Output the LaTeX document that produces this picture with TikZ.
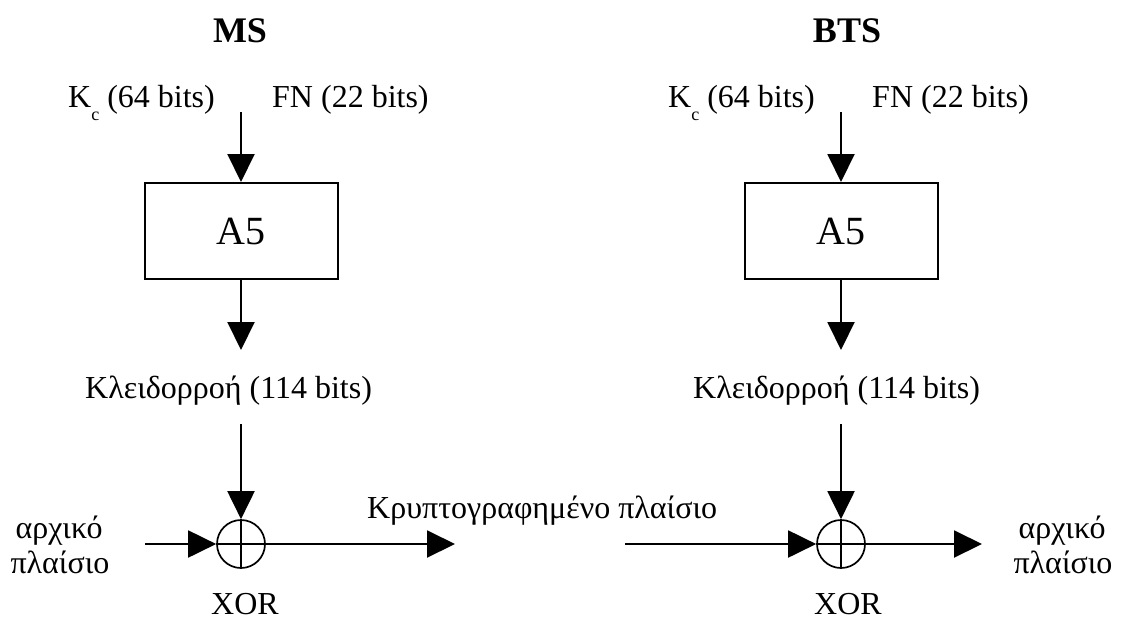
\documentclass[tikz,border=0pt]{standalone}
\usepackage{fontspec}
\setmainfont{Liberation Serif}
\usetikzlibrary{arrows.meta}

\tikzset{
  lbl/.style={inner sep=0pt, font=\fontsize{32}{34}\selectfont},
  head/.style={inner sep=0pt, font=\fontsize{36}{38}\selectfont\bfseries},
  cipherbox/.style={draw, line width=2pt, minimum width=193pt, minimum height=96pt,
    inner sep=0pt, font=\fontsize{40}{42}\selectfont},
  xorgate/.style={draw, circle, line width=1.7pt, minimum size=48pt, inner sep=0pt},
  flow/.style={line width=2pt, -{Triangle[length=28pt,width=27pt]}},
  plain/.style={line width=2pt}
}
\newcommand{\kcsub}{K\raisebox{-13pt}{\fontsize{18}{18}\selectfont c}}

\begin{document}
\begin{tikzpicture}[x=1pt, y=-1pt]
\useasboundingbox (0,0) rectangle (1129,619);

% ---------- MS side ----------
\node[head, anchor=base] (ms) at (240,42) {MS};
\node[lbl, anchor=base west] (kcL) at (68,107) {\kcsub\ (64 bits)};
\node[lbl, anchor=base west] (fnL) at (272,107) {FN (22 bits)};
\node[cipherbox] (a5L) at (241,231) {A5};
\node[lbl, anchor=base west] (ksL) at (85,398) {Κλειδορροή (114 bits)};
\node[xorgate] (xL) at (241,544) {};
\node[lbl, anchor=base] (xorL) at (245,614) {XOR};
\node[lbl, anchor=base] (origL1) at (59,538) {αρχικό};
\node[lbl, anchor=base] (origL2) at (60,573) {πλαίσιο};
\node[lbl, anchor=base west] (cipher) at (367,518) {Κρυπτογραφημένο πλαίσιο};

\coordinate (inL) at (241,112);
\coordinate (ksTopL) at (241,350);
\coordinate (ksBotL) at (241,424);
\coordinate (srcL) at (145,544);
\coordinate (outL) at (455,544);

\draw[flow] (inL) -- (a5L.north);
\draw[flow] (a5L.south) -- (ksTopL);
\draw[flow] (ksBotL) -- (xL.north);
\draw[flow] (srcL) -- (xL.west);
\draw[flow] (xL.east) -- (outL);
\draw[line width=1.7pt] (xL.north) -- (xL.south) (xL.west) -- (xL.east);

% ---------- BTS side ----------
\node[head, anchor=base] (bts) at (847,42) {BTS};
\node[lbl, anchor=base west] (kcR) at (668,107) {\kcsub\ (64 bits)};
\node[lbl, anchor=base west] (fnR) at (872,107) {FN (22 bits)};
\node[cipherbox] (a5R) at (841,231) {A5};
\node[lbl, anchor=base west] (ksR) at (693,398) {Κλειδορροή (114 bits)};
\node[xorgate] (xR) at (841,544) {};
\node[lbl, anchor=base] (xorR) at (848,614) {XOR};
\node[lbl, anchor=base] (origR1) at (1062,538) {αρχικό};
\node[lbl, anchor=base] (origR2) at (1063,573) {πλαίσιο};

\coordinate (inR) at (841,112);
\coordinate (ksTopR) at (841,350);
\coordinate (ksBotR) at (841,424);
\coordinate (srcR) at (625,544);
\coordinate (outR) at (982,544);

\draw[flow] (inR) -- (a5R.north);
\draw[flow] (a5R.south) -- (ksTopR);
\draw[flow] (ksBotR) -- (xR.north);
\draw[flow] (srcR) -- (xR.west);
\draw[flow] (xR.east) -- (outR);
\draw[line width=1.7pt] (xR.north) -- (xR.south) (xR.west) -- (xR.east);
\end{tikzpicture}
\end{document}
